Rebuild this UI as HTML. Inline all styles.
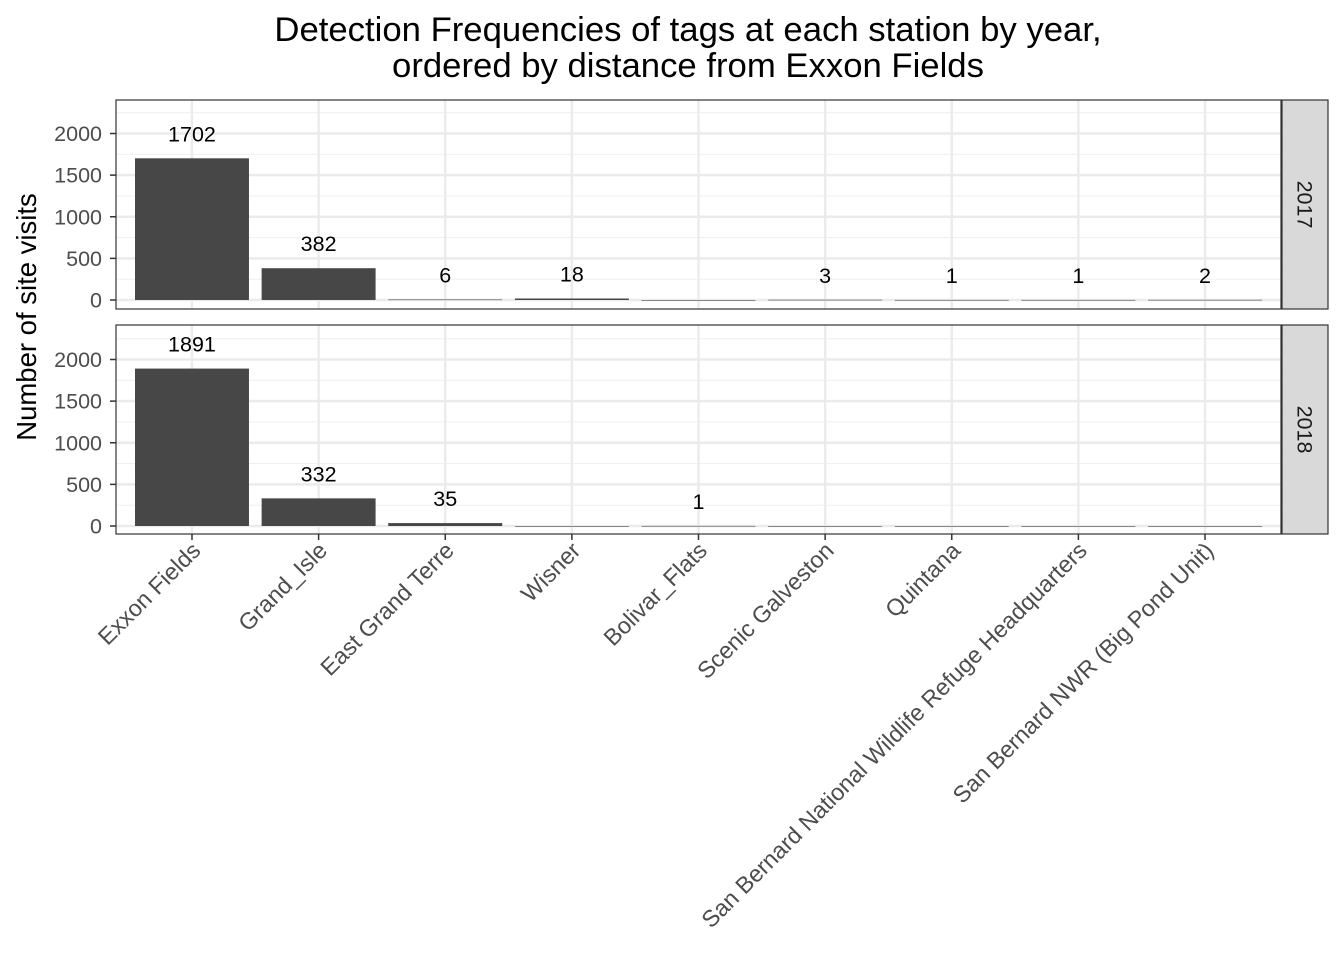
<!DOCTYPE html>
<html><head><meta charset="utf-8"><style>body{margin:0;background:#fff}svg{font-family:"Liberation Sans",Arial,sans-serif}</style></head>
<body>
<svg id="c" width="1344" height="960"></svg>
<script>
const categories=["Exxon Fields","Grand_Isle","East Grand Terre","Wisner","Bolivar_Flats","Scenic Galveston","Quintana","San Bernard National Wildlife Refuge Headquarters","San Bernard NWR (Big Pond Unit)"];
const years=["2017","2018"];
const values2017=[1702,382,6,18,0,3,1,1,2];
const values2018=[1891,332,35,0,1,0,0,0,0];
const yTicks=[0,500,1000,1500,2000];
const svg=document.getElementById('c');const NS='http://www.w3.org/2000/svg';
function el(t,a,p){const e=document.createElementNS(NS,t);for(const k in a)e.setAttribute(k,a[k]);(p||svg).appendChild(e);return e;}
const px0=116,px1=1281;
const step=(px1-px0)/(categories.length-1+1.2);
const xs=i=>px0+step*(i+0.6);
const panels=[{top:100,bot:309,zero:300,vals:values2017,y:years[0]},{top:325,bot:534,zero:526,vals:values2018,y:years[1]}];
const t=el('text',{x:688,y:41,'text-anchor':'middle','font-size':34.7,fill:'#000'});t.textContent='Detection Frequencies of tags at each station by year,';

const t2=el('text',{x:688,y:77,'text-anchor':'middle','font-size':34.7,fill:'#000'});t2.textContent='ordered by distance from Exxon Fields';

panels.forEach((p,pi)=>{
 const ys=v=>p.zero-v*0.08325;
 const g=el('g',{});
 el('rect',{x:px0,y:p.top,width:px1-px0,height:p.bot-p.top,fill:'#fff'},g);
 for(let v=250;v<=2250;v+=500){const y=ys(v);if(y>p.top)el('line',{x1:px0,x2:px1,y1:y,y2:y,stroke:'#f0f0f0','stroke-width':1.2},g);}
 yTicks.forEach(v=>{const y=ys(v);el('line',{x1:px0,x2:px1,y1:y,y2:y,stroke:'#ebebeb','stroke-width':2.4},g);
  el('line',{x1:px0-6,x2:px0,y1:y,y2:y,stroke:'#333','stroke-width':1.5},g);
  const l=el('text',{x:px0-14,y:y+7.5,'text-anchor':'end','font-size':21.5,fill:'#4d4d4d'},g);l.textContent=v;
  });
 categories.forEach((c,i)=>el('line',{x1:xs(i),x2:xs(i),y1:p.top,y2:p.bot,stroke:'#ebebeb','stroke-width':2.4},g));
 p.vals.forEach((v,i)=>{const bw=step*0.9;
  const b=el('rect',{x:xs(i)-bw/2,y:ys(v),width:bw,height:Math.max(v*0.08325,0.6),fill:'#474747'},g);
  
  if(v>0){const l=el('text',{x:xs(i),y:ys(v)-17,'text-anchor':'middle','font-size':21.5,fill:'#000'},g);l.textContent=v;
   }});
 el('rect',{x:px0,y:p.top,width:px1-px0,height:p.bot-p.top,fill:'none',stroke:'#333','stroke-width':1.2},g);
 const s=el('rect',{x:1282,y:p.top,width:46,height:p.bot-p.top,fill:'#d9d9d9',stroke:'#333','stroke-width':1.2},g);
 
 const cy=(p.top+p.bot)/2;
 const st=el('text',{x:1305,y:cy,'text-anchor':'middle','font-size':21.5,fill:'#1a1a1a',transform:`rotate(90 1305 ${cy})`,dy:7.5},g);st.textContent=p.y;
 
});
categories.forEach((c,i)=>{const x=xs(i);
 el('line',{x1:x,x2:x,y1:534,y2:540,stroke:'#333','stroke-width':1.5});
 const l=el('text',{x:x+10,y:552,'text-anchor':'end','font-size':23.3,fill:'#4d4d4d',transform:`rotate(-45 ${x+10} 552)`});l.textContent=c;
 });
const yt=el('text',{x:36,y:317,'text-anchor':'middle','font-size':27.5,fill:'#000',transform:'rotate(-90 36 317)'});yt.textContent='Number of site visits';

</script>
</body></html>
